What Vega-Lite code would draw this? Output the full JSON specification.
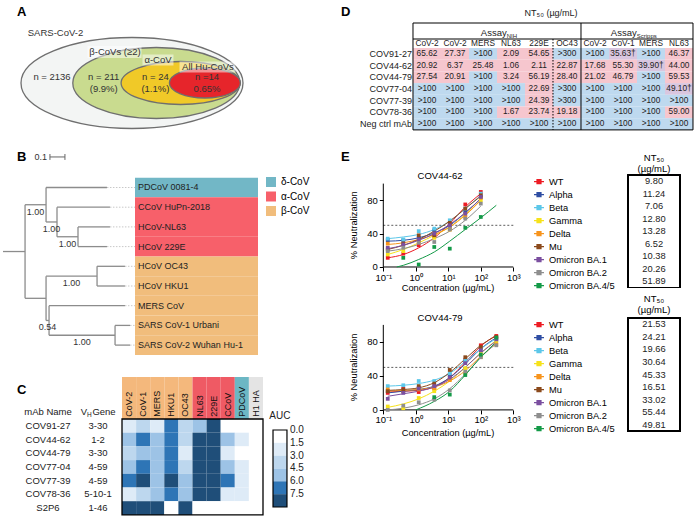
{
"$schema": "https://vega.github.io/schema/vega-lite/v6.json",
"padding": 0,
"background": "white",
"config": {
  "font": "Liberation Sans",
  "view": {"stroke": null},
  "title": {"fontSize": 13, "fontWeight": "bold", "anchor": "start", "color": "black", "font": "Liberation Sans"},
  "axis": {"labelFont": "Liberation Sans", "titleFont": "Liberation Sans", "labelColor": "black", "titleColor": "black", "domainColor": "black", "tickColor": "black", "grid": false, "labelFontSize": 9.5, "titleFontSize": 9.5, "titleFontWeight": "normal"},
  "legend": {"labelFont": "Liberation Sans", "titleFont": "Liberation Sans", "labelColor": "black", "titleColor": "black", "labelFontSize": 10, "titleFontSize": 10, "titleFontWeight": "normal"},
  "text": {"font": "Liberation Sans", "color": "#1a1a1a"}
},
"datasets": {
  "venn": [
    {"set": "SARS-CoV-2", "level": 0, "n": "n = 2136", "pct": null},
    {"set": "β-CoVs (≥2)", "level": 1, "n": "n = 211", "pct": "(9.9%)"},
    {"set": "α-CoV", "level": 2, "n": "n = 24", "pct": "(1.1%)"},
    {"set": "All Hu-CoVs", "level": 3, "n": "n =14", "pct": "0.65%"}
  ],
  "leaves": [
    {"name": "PDCoV 0081-4", "i": 0, "genus": "δ-CoV", "tip": 0.693},
    {"name": "CCoV HuPn-2018", "i": 1, "genus": "α-CoV", "tip": 0.713},
    {"name": "HCoV-NL63", "i": 2, "genus": "α-CoV", "tip": 0.713},
    {"name": "HCoV 229E", "i": 3, "genus": "α-CoV", "tip": 0.693},
    {"name": "HCoV OC43", "i": 4, "genus": "β-CoV", "tip": 0.813},
    {"name": "HCoV HKU1", "i": 5, "genus": "β-CoV", "tip": 0.813},
    {"name": "MERS CoV", "i": 6, "genus": "β-CoV", "tip": 0.813},
    {"name": "SARS CoV-1 Urbani", "i": 7, "genus": "β-CoV", "tip": 0.847},
    {"name": "SARS CoV-2 Wuhan Hu-1", "i": 8, "genus": "β-CoV", "tip": 0.847}
  ],
  "edges": [
    {"x0": 0, "x1": 0.147, "y0": 3.25, "y1": 3.25},
    {"x0": 0.147, "x1": 0.147, "y0": 0.875, "y1": 5.625},
    {"x0": 0.147, "x1": 0.287, "y0": 0.875, "y1": 0.875, "support": "1.00"},
    {"x0": 0.287, "x1": 0.287, "y0": 0, "y1": 1.75},
    {"x0": 0.287, "x1": 0.693, "y0": 0, "y1": 0},
    {"x0": 0.287, "x1": 0.36, "y0": 1.75, "y1": 1.75, "support": "1.00"},
    {"x0": 0.36, "x1": 0.36, "y0": 1, "y1": 2.5},
    {"x0": 0.36, "x1": 0.713, "y0": 1, "y1": 1},
    {"x0": 0.36, "x1": 0.5, "y0": 2.5, "y1": 2.5, "support": "1.00"},
    {"x0": 0.5, "x1": 0.5, "y0": 2, "y1": 3},
    {"x0": 0.5, "x1": 0.713, "y0": 2, "y1": 2},
    {"x0": 0.5, "x1": 0.693, "y0": 3, "y1": 3},
    {"x0": 0.147, "x1": 0.287, "y0": 5.625, "y1": 5.625},
    {"x0": 0.287, "x1": 0.287, "y0": 4.5, "y1": 6.75},
    {"x0": 0.287, "x1": 0.627, "y0": 4.5, "y1": 4.5, "support": "1.00"},
    {"x0": 0.627, "x1": 0.627, "y0": 4, "y1": 5},
    {"x0": 0.627, "x1": 0.813, "y0": 4, "y1": 4},
    {"x0": 0.627, "x1": 0.813, "y0": 5, "y1": 5},
    {"x0": 0.287, "x1": 0.307, "y0": 6.75, "y1": 6.75, "support": "0.54"},
    {"x0": 0.307, "x1": 0.307, "y0": 6, "y1": 7.5},
    {"x0": 0.307, "x1": 0.813, "y0": 6, "y1": 6},
    {"x0": 0.307, "x1": 0.747, "y0": 7.5, "y1": 7.5, "support": "1.00"},
    {"x0": 0.747, "x1": 0.747, "y0": 7, "y1": 8},
    {"x0": 0.747, "x1": 0.847, "y0": 7, "y1": 7},
    {"x0": 0.747, "x1": 0.847, "y0": 8, "y1": 8}
  ],
  "heat_cols": [
    {"antigen": "CoV-2", "ci": 0, "grp": "beta"}, {"antigen": "CoV-1", "ci": 1, "grp": "beta"},
    {"antigen": "MERS", "ci": 2, "grp": "beta"}, {"antigen": "HKU1", "ci": 3, "grp": "beta"},
    {"antigen": "OC43", "ci": 4, "grp": "beta"}, {"antigen": "NL63", "ci": 5, "grp": "alpha"},
    {"antigen": "229E", "ci": 6, "grp": "alpha"}, {"antigen": "CCoV", "ci": 7, "grp": "alpha"},
    {"antigen": "PDCoV", "ci": 8, "grp": "delta"}, {"antigen": "H1 HA", "ci": 9, "grp": "ctrl"}
  ],
  "heat_rows": [
    {"mAb": "COV91-27", "vh": "3-30", "ri": 0}, {"mAb": "COV44-62", "vh": "1-2", "ri": 1},
    {"mAb": "COV44-79", "vh": "3-30", "ri": 2}, {"mAb": "COV77-04", "vh": "4-59", "ri": 3},
    {"mAb": "COV77-39", "vh": "4-59", "ri": 4}, {"mAb": "COV78-36", "vh": "5-10-1", "ri": 5},
    {"mAb": "S2P6", "vh": "1-46", "ri": 6}
  ],
  "auc_bins": [
    {"lo": 0, "hi": 1.5}, {"lo": 1.5, "hi": 3}, {"lo": 3, "hi": 4.5}, {"lo": 4.5, "hi": 6}, {"lo": 6, "hi": 7.5}, {"lo": 7.5, "hi": 9}
  ],
  "heat": [
    {"ri":0,"ci":0,"auc":2.2},{"ri":0,"ci":1,"auc":3.7},{"ri":0,"ci":2,"auc":2.2},{"ri":0,"ci":3,"auc":6.7},{"ri":0,"ci":4,"auc":3.7},{"ri":0,"ci":5,"auc":5.2},{"ri":0,"ci":6,"auc":8.3},{"ri":0,"ci":7,"auc":0.5},{"ri":0,"ci":8,"auc":0.5},{"ri":0,"ci":9,"auc":0.5},
    {"ri":1,"ci":0,"auc":5.2},{"ri":1,"ci":1,"auc":6.7},{"ri":1,"ci":2,"auc":5.2},{"ri":1,"ci":3,"auc":6.7},{"ri":1,"ci":4,"auc":3.7},{"ri":1,"ci":5,"auc":8.3},{"ri":1,"ci":6,"auc":8.3},{"ri":1,"ci":7,"auc":5.2},{"ri":1,"ci":8,"auc":2.2},{"ri":1,"ci":9,"auc":0.5},
    {"ri":2,"ci":0,"auc":3.7},{"ri":2,"ci":1,"auc":5.2},{"ri":2,"ci":2,"auc":5.2},{"ri":2,"ci":3,"auc":6.7},{"ri":2,"ci":4,"auc":2.2},{"ri":2,"ci":5,"auc":8.3},{"ri":2,"ci":6,"auc":8.3},{"ri":2,"ci":7,"auc":2.2},{"ri":2,"ci":8,"auc":0.5},{"ri":2,"ci":9,"auc":0.5},
    {"ri":3,"ci":0,"auc":5.2},{"ri":3,"ci":1,"auc":6.7},{"ri":3,"ci":2,"auc":5.2},{"ri":3,"ci":3,"auc":6.7},{"ri":3,"ci":4,"auc":3.7},{"ri":3,"ci":5,"auc":8.3},{"ri":3,"ci":6,"auc":8.3},{"ri":3,"ci":7,"auc":5.2},{"ri":3,"ci":8,"auc":2.2},{"ri":3,"ci":9,"auc":0.5},
    {"ri":4,"ci":0,"auc":6.7},{"ri":4,"ci":1,"auc":8.3},{"ri":4,"ci":2,"auc":5.2},{"ri":4,"ci":3,"auc":8.3},{"ri":4,"ci":4,"auc":5.2},{"ri":4,"ci":5,"auc":8.3},{"ri":4,"ci":6,"auc":8.3},{"ri":4,"ci":7,"auc":6.7},{"ri":4,"ci":8,"auc":2.2},{"ri":4,"ci":9,"auc":0.5},
    {"ri":5,"ci":0,"auc":2.2},{"ri":5,"ci":1,"auc":3.7},{"ri":5,"ci":2,"auc":5.2},{"ri":5,"ci":3,"auc":6.7},{"ri":5,"ci":4,"auc":5.2},{"ri":5,"ci":5,"auc":8.3},{"ri":5,"ci":6,"auc":8.3},{"ri":5,"ci":7,"auc":2.2},{"ri":5,"ci":8,"auc":2.2},{"ri":5,"ci":9,"auc":0.5},
    {"ri":6,"ci":0,"auc":8.3},{"ri":6,"ci":1,"auc":8.3},{"ri":6,"ci":2,"auc":8.3},{"ri":6,"ci":3,"auc":0.5},{"ri":6,"ci":4,"auc":8.3},{"ri":6,"ci":5,"auc":0.5},{"ri":6,"ci":6,"auc":0.5},{"ri":6,"ci":7,"auc":0.5},{"ri":6,"ci":8,"auc":0.5},{"ri":6,"ci":9,"auc":0.5}
  ],
  "tbl_cols": [
    {"c":1,"name":"CoV-2"},{"c":2,"name":"CoV-2"},{"c":3,"name":"MERS"},{"c":4,"name":"NL63"},{"c":5,"name":"229E"},
    {"c":6,"name":"OC43"},{"c":7,"name":"CoV-2"},{"c":8,"name":"CoV-1"},{"c":9,"name":"MERS"},{"c":10,"name":"NL63"}
  ],
  "tbl_rows": [
    {"r":1,"row":"COV91-27"},{"r":2,"row":"COV44-62"},{"r":3,"row":"COV44-79"},{"r":4,"row":"COV77-04"},
    {"r":5,"row":"COV77-39"},{"r":6,"row":"COV78-36"},{"r":7,"row":"Neg ctrl mAb"}
  ],
  "tbl": [
    {"r":1,"c":1,"v":"65.62","k":"p"},{"r":1,"c":2,"v":"27.37","k":"p"},{"r":1,"c":3,"v":">100","k":"b"},{"r":1,"c":4,"v":"2.09","k":"p"},{"r":1,"c":5,"v":"54.65","k":"p"},{"r":1,"c":6,"v":">300","k":"b"},{"r":1,"c":7,"v":">100","k":"b"},{"r":1,"c":8,"v":"35.63†","k":"v"},{"r":1,"c":9,"v":">100","k":"b"},{"r":1,"c":10,"v":"46.37","k":"p"},
    {"r":2,"c":1,"v":"20.92","k":"p"},{"r":2,"c":2,"v":"6.37","k":"p"},{"r":2,"c":3,"v":"25.48","k":"p"},{"r":2,"c":4,"v":"1.06","k":"p"},{"r":2,"c":5,"v":"2.11","k":"p"},{"r":2,"c":6,"v":"22.87","k":"p"},{"r":2,"c":7,"v":"17.68","k":"p"},{"r":2,"c":8,"v":"55.30","k":"p"},{"r":2,"c":9,"v":"39.90†","k":"v"},{"r":2,"c":10,"v":"44.00","k":"p"},
    {"r":3,"c":1,"v":"27.54","k":"p"},{"r":3,"c":2,"v":"20.91","k":"p"},{"r":3,"c":3,"v":">100","k":"b"},{"r":3,"c":4,"v":"3.24","k":"p"},{"r":3,"c":5,"v":"56.19","k":"p"},{"r":3,"c":6,"v":"28.40","k":"p"},{"r":3,"c":7,"v":"21.02","k":"p"},{"r":3,"c":8,"v":"46.79","k":"p"},{"r":3,"c":9,"v":">100","k":"b"},{"r":3,"c":10,"v":"59.53","k":"p"},
    {"r":4,"c":1,"v":">100","k":"b"},{"r":4,"c":2,"v":">100","k":"b"},{"r":4,"c":3,"v":">100","k":"b"},{"r":4,"c":4,"v":">100","k":"b"},{"r":4,"c":5,"v":"22.69","k":"p"},{"r":4,"c":6,"v":">300","k":"b"},{"r":4,"c":7,"v":">100","k":"b"},{"r":4,"c":8,"v":">100","k":"b"},{"r":4,"c":9,"v":">100","k":"b"},{"r":4,"c":10,"v":"49.10†","k":"v"},
    {"r":5,"c":1,"v":">100","k":"b"},{"r":5,"c":2,"v":">100","k":"b"},{"r":5,"c":3,"v":">100","k":"b"},{"r":5,"c":4,"v":">100","k":"b"},{"r":5,"c":5,"v":"24.39","k":"p"},{"r":5,"c":6,"v":">300","k":"b"},{"r":5,"c":7,"v":">100","k":"b"},{"r":5,"c":8,"v":">100","k":"b"},{"r":5,"c":9,"v":">100","k":"b"},{"r":5,"c":10,"v":">100","k":"b"},
    {"r":6,"c":1,"v":">100","k":"b"},{"r":6,"c":2,"v":">100","k":"b"},{"r":6,"c":3,"v":">100","k":"b"},{"r":6,"c":4,"v":"1.67","k":"p"},{"r":6,"c":5,"v":"23.74","k":"p"},{"r":6,"c":6,"v":"19.18","k":"p"},{"r":6,"c":7,"v":">100","k":"b"},{"r":6,"c":8,"v":">100","k":"b"},{"r":6,"c":9,"v":">100","k":"b"},{"r":6,"c":10,"v":"59.00","k":"p"},
    {"r":7,"c":1,"v":">100","k":"b"},{"r":7,"c":2,"v":">100","k":"b"},{"r":7,"c":3,"v":">100","k":"b"},{"r":7,"c":4,"v":">100","k":"b"},{"r":7,"c":5,"v":">100","k":"b"},{"r":7,"c":6,"v":">100","k":"b"},{"r":7,"c":7,"v":">100","k":"b"},{"r":7,"c":8,"v":">100","k":"b"},{"r":7,"c":9,"v":">100","k":"b"},{"r":7,"c":10,"v":">100","k":"b"}
  ],
  "e1pts": [
    {"variant":"WT","conc":0.137,"pct":11},{"variant":"WT","conc":0.412,"pct":16},{"variant":"WT","conc":1.23,"pct":26},{"variant":"WT","conc":3.7,"pct":37},{"variant":"WT","conc":11.1,"pct":52},{"variant":"WT","conc":33.3,"pct":75},{"variant":"WT","conc":100,"pct":90},
    {"variant":"Alpha","conc":0.137,"pct":32},{"variant":"Alpha","conc":0.412,"pct":32},{"variant":"Alpha","conc":1.23,"pct":35},{"variant":"Alpha","conc":3.7,"pct":44},{"variant":"Alpha","conc":11.1,"pct":47},{"variant":"Alpha","conc":33.3,"pct":66},{"variant":"Alpha","conc":100,"pct":84},
    {"variant":"Beta","conc":0.137,"pct":34},{"variant":"Beta","conc":0.412,"pct":33},{"variant":"Beta","conc":1.23,"pct":43},{"variant":"Beta","conc":3.7,"pct":46},{"variant":"Beta","conc":11.1,"pct":56},{"variant":"Beta","conc":33.3,"pct":70},{"variant":"Beta","conc":100,"pct":88},
    {"variant":"Gamma","conc":0.137,"pct":15},{"variant":"Gamma","conc":0.412,"pct":19},{"variant":"Gamma","conc":1.23,"pct":30},{"variant":"Gamma","conc":3.7,"pct":35},{"variant":"Gamma","conc":11.1,"pct":45},{"variant":"Gamma","conc":33.3,"pct":62},{"variant":"Gamma","conc":100,"pct":80},
    {"variant":"Delta","conc":0.137,"pct":28},{"variant":"Delta","conc":0.412,"pct":28},{"variant":"Delta","conc":1.23,"pct":31},{"variant":"Delta","conc":3.7,"pct":40},{"variant":"Delta","conc":11.1,"pct":45},{"variant":"Delta","conc":33.3,"pct":60},{"variant":"Delta","conc":100,"pct":83},
    {"variant":"Mu","conc":0.137,"pct":21},{"variant":"Mu","conc":0.412,"pct":28},{"variant":"Mu","conc":1.23,"pct":38},{"variant":"Mu","conc":3.7,"pct":38},{"variant":"Mu","conc":11.1,"pct":53},{"variant":"Mu","conc":33.3,"pct":70},{"variant":"Mu","conc":100,"pct":86},
    {"variant":"Omicron BA.1","conc":0.137,"pct":23},{"variant":"Omicron BA.1","conc":0.412,"pct":27},{"variant":"Omicron BA.1","conc":1.23,"pct":33},{"variant":"Omicron BA.1","conc":3.7,"pct":40},{"variant":"Omicron BA.1","conc":11.1,"pct":50},{"variant":"Omicron BA.1","conc":33.3,"pct":64},{"variant":"Omicron BA.1","conc":100,"pct":84},
    {"variant":"Omicron BA.2","conc":0.137,"pct":19},{"variant":"Omicron BA.2","conc":0.412,"pct":23},{"variant":"Omicron BA.2","conc":1.23,"pct":29},{"variant":"Omicron BA.2","conc":3.7,"pct":30},{"variant":"Omicron BA.2","conc":11.1,"pct":45},{"variant":"Omicron BA.2","conc":33.3,"pct":58},{"variant":"Omicron BA.2","conc":100,"pct":76},
    {"variant":"Omicron BA.4/5","conc":0.412,"pct":11},{"variant":"Omicron BA.4/5","conc":1.23,"pct":3},{"variant":"Omicron BA.4/5","conc":3.7,"pct":24},{"variant":"Omicron BA.4/5","conc":11.1,"pct":22},{"variant":"Omicron BA.4/5","conc":33.3,"pct":47},{"variant":"Omicron BA.4/5","conc":100,"pct":60}
  ],
  "e1fit": [
    {"variant":"WT","conc":0.137,"pct":11},{"variant":"WT","conc":0.412,"pct":15},{"variant":"WT","conc":1.23,"pct":23},{"variant":"WT","conc":3.7,"pct":35},{"variant":"WT","conc":11.1,"pct":52},{"variant":"WT","conc":33.3,"pct":72},{"variant":"WT","conc":100,"pct":88},
    {"variant":"Alpha","conc":0.137,"pct":31},{"variant":"Alpha","conc":0.412,"pct":32},{"variant":"Alpha","conc":1.23,"pct":35},{"variant":"Alpha","conc":3.7,"pct":41},{"variant":"Alpha","conc":11.1,"pct":50},{"variant":"Alpha","conc":33.3,"pct":65},{"variant":"Alpha","conc":100,"pct":82},
    {"variant":"Beta","conc":0.137,"pct":34},{"variant":"Beta","conc":0.412,"pct":36},{"variant":"Beta","conc":1.23,"pct":39},{"variant":"Beta","conc":3.7,"pct":45},{"variant":"Beta","conc":11.1,"pct":55},{"variant":"Beta","conc":33.3,"pct":70},{"variant":"Beta","conc":100,"pct":86},
    {"variant":"Gamma","conc":0.137,"pct":15},{"variant":"Gamma","conc":0.412,"pct":21},{"variant":"Gamma","conc":1.23,"pct":29},{"variant":"Gamma","conc":3.7,"pct":38},{"variant":"Gamma","conc":11.1,"pct":48},{"variant":"Gamma","conc":33.3,"pct":63},{"variant":"Gamma","conc":100,"pct":80},
    {"variant":"Delta","conc":0.137,"pct":27},{"variant":"Delta","conc":0.412,"pct":29},{"variant":"Delta","conc":1.23,"pct":33},{"variant":"Delta","conc":3.7,"pct":39},{"variant":"Delta","conc":11.1,"pct":48},{"variant":"Delta","conc":33.3,"pct":62},{"variant":"Delta","conc":100,"pct":80},
    {"variant":"Mu","conc":0.137,"pct":21},{"variant":"Mu","conc":0.412,"pct":26},{"variant":"Mu","conc":1.23,"pct":33},{"variant":"Mu","conc":3.7,"pct":43},{"variant":"Mu","conc":11.1,"pct":55},{"variant":"Mu","conc":33.3,"pct":70},{"variant":"Mu","conc":100,"pct":85},
    {"variant":"Omicron BA.1","conc":0.137,"pct":22},{"variant":"Omicron BA.1","conc":0.412,"pct":26},{"variant":"Omicron BA.1","conc":1.23,"pct":32},{"variant":"Omicron BA.1","conc":3.7,"pct":40},{"variant":"Omicron BA.1","conc":11.1,"pct":51},{"variant":"Omicron BA.1","conc":33.3,"pct":65},{"variant":"Omicron BA.1","conc":100,"pct":82},
    {"variant":"Omicron BA.2","conc":0.137,"pct":19},{"variant":"Omicron BA.2","conc":0.412,"pct":22},{"variant":"Omicron BA.2","conc":1.23,"pct":27},{"variant":"Omicron BA.2","conc":3.7,"pct":34},{"variant":"Omicron BA.2","conc":11.1,"pct":43},{"variant":"Omicron BA.2","conc":33.3,"pct":56},{"variant":"Omicron BA.2","conc":100,"pct":73},
    {"variant":"Omicron BA.4/5","conc":0.26,"pct":0},{"variant":"Omicron BA.4/5","conc":0.412,"pct":2},{"variant":"Omicron BA.4/5","conc":1.23,"pct":9},{"variant":"Omicron BA.4/5","conc":3.7,"pct":18},{"variant":"Omicron BA.4/5","conc":11.1,"pct":31},{"variant":"Omicron BA.4/5","conc":33.3,"pct":45},{"variant":"Omicron BA.4/5","conc":100,"pct":59},{"variant":"Omicron BA.4/5","conc":300,"pct":74}
  ],
  "e1nt": [
    {"variant":"WT","nt":"9.80"},{"variant":"Alpha","nt":"11.24"},{"variant":"Beta","nt":"7.06"},{"variant":"Gamma","nt":"12.80"},{"variant":"Delta","nt":"13.28"},{"variant":"Mu","nt":"6.52"},{"variant":"Omicron BA.1","nt":"10.38"},{"variant":"Omicron BA.2","nt":"20.26"},{"variant":"Omicron BA.4/5","nt":"51.89"}
  ],
  "e2pts": [
    {"variant":"WT","conc":0.137,"pct":20},{"variant":"WT","conc":0.412,"pct":25},{"variant":"WT","conc":1.23,"pct":21},{"variant":"WT","conc":3.7,"pct":25},{"variant":"WT","conc":11.1,"pct":39},{"variant":"WT","conc":33.3,"pct":59},{"variant":"WT","conc":100,"pct":76},{"variant":"WT","conc":300,"pct":87},
    {"variant":"Alpha","conc":0.137,"pct":22},{"variant":"Alpha","conc":0.412,"pct":22},{"variant":"Alpha","conc":1.23,"pct":26},{"variant":"Alpha","conc":3.7,"pct":27},{"variant":"Alpha","conc":11.1,"pct":41},{"variant":"Alpha","conc":33.3,"pct":57},{"variant":"Alpha","conc":100,"pct":72},{"variant":"Alpha","conc":300,"pct":84},
    {"variant":"Beta","conc":0.137,"pct":28},{"variant":"Beta","conc":0.412,"pct":29},{"variant":"Beta","conc":1.23,"pct":34},{"variant":"Beta","conc":3.7,"pct":34},{"variant":"Beta","conc":11.1,"pct":43},{"variant":"Beta","conc":33.3,"pct":58},{"variant":"Beta","conc":100,"pct":72},{"variant":"Beta","conc":300,"pct":82},
    {"variant":"Gamma","conc":0.137,"pct":4},{"variant":"Gamma","conc":0.412,"pct":2},{"variant":"Gamma","conc":1.23,"pct":14},{"variant":"Gamma","conc":3.7,"pct":22},{"variant":"Gamma","conc":11.1,"pct":36},{"variant":"Gamma","conc":33.3,"pct":49},{"variant":"Gamma","conc":100,"pct":66},{"variant":"Gamma","conc":300,"pct":80},
    {"variant":"Delta","conc":0.137,"pct":24},{"variant":"Delta","conc":0.412,"pct":22},{"variant":"Delta","conc":1.23,"pct":24},{"variant":"Delta","conc":3.7,"pct":26},{"variant":"Delta","conc":11.1,"pct":35},{"variant":"Delta","conc":33.3,"pct":43},{"variant":"Delta","conc":100,"pct":62},{"variant":"Delta","conc":300,"pct":77},
    {"variant":"Mu","conc":0.137,"pct":22},{"variant":"Mu","conc":0.412,"pct":24},{"variant":"Mu","conc":1.23,"pct":28},{"variant":"Mu","conc":3.7,"pct":31},{"variant":"Mu","conc":11.1,"pct":47},{"variant":"Mu","conc":33.3,"pct":62},{"variant":"Mu","conc":100,"pct":74},{"variant":"Mu","conc":300,"pct":86},
    {"variant":"Omicron BA.1","conc":0.137,"pct":13},{"variant":"Omicron BA.1","conc":0.412,"pct":20},{"variant":"Omicron BA.1","conc":1.23,"pct":25},{"variant":"Omicron BA.1","conc":3.7,"pct":28},{"variant":"Omicron BA.1","conc":11.1,"pct":38},{"variant":"Omicron BA.1","conc":33.3,"pct":55},{"variant":"Omicron BA.1","conc":100,"pct":70},{"variant":"Omicron BA.1","conc":300,"pct":83},
    {"variant":"Omicron BA.2","conc":0.137,"pct":0},{"variant":"Omicron BA.2","conc":0.412,"pct":5},{"variant":"Omicron BA.2","conc":1.23,"pct":9},{"variant":"Omicron BA.2","conc":3.7,"pct":12},{"variant":"Omicron BA.2","conc":11.1,"pct":23},{"variant":"Omicron BA.2","conc":33.3,"pct":45},{"variant":"Omicron BA.2","conc":100,"pct":62},{"variant":"Omicron BA.2","conc":300,"pct":76},
    {"variant":"Omicron BA.4/5","conc":3.7,"pct":15},{"variant":"Omicron BA.4/5","conc":11.1,"pct":18},{"variant":"Omicron BA.4/5","conc":33.3,"pct":41},{"variant":"Omicron BA.4/5","conc":100,"pct":65},{"variant":"Omicron BA.4/5","conc":300,"pct":85}
  ],
  "e2fit": [
    {"variant":"WT","conc":0.137,"pct":21},{"variant":"WT","conc":0.412,"pct":22},{"variant":"WT","conc":1.23,"pct":23},{"variant":"WT","conc":3.7,"pct":27},{"variant":"WT","conc":11.1,"pct":38},{"variant":"WT","conc":33.3,"pct":56},{"variant":"WT","conc":100,"pct":75},{"variant":"WT","conc":300,"pct":88},
    {"variant":"Alpha","conc":0.137,"pct":20},{"variant":"Alpha","conc":0.412,"pct":22},{"variant":"Alpha","conc":1.23,"pct":24},{"variant":"Alpha","conc":3.7,"pct":28},{"variant":"Alpha","conc":11.1,"pct":38},{"variant":"Alpha","conc":33.3,"pct":54},{"variant":"Alpha","conc":100,"pct":72},{"variant":"Alpha","conc":300,"pct":85},
    {"variant":"Beta","conc":0.137,"pct":28},{"variant":"Beta","conc":0.412,"pct":29},{"variant":"Beta","conc":1.23,"pct":31},{"variant":"Beta","conc":3.7,"pct":35},{"variant":"Beta","conc":11.1,"pct":43},{"variant":"Beta","conc":33.3,"pct":57},{"variant":"Beta","conc":100,"pct":72},{"variant":"Beta","conc":300,"pct":84},
    {"variant":"Gamma","conc":0.137,"pct":3},{"variant":"Gamma","conc":0.412,"pct":7},{"variant":"Gamma","conc":1.23,"pct":13},{"variant":"Gamma","conc":3.7,"pct":22},{"variant":"Gamma","conc":11.1,"pct":34},{"variant":"Gamma","conc":33.3,"pct":50},{"variant":"Gamma","conc":100,"pct":67},{"variant":"Gamma","conc":300,"pct":82},
    {"variant":"Delta","conc":0.137,"pct":22},{"variant":"Delta","conc":0.412,"pct":23},{"variant":"Delta","conc":1.23,"pct":24},{"variant":"Delta","conc":3.7,"pct":27},{"variant":"Delta","conc":11.1,"pct":34},{"variant":"Delta","conc":33.3,"pct":46},{"variant":"Delta","conc":100,"pct":63},{"variant":"Delta","conc":300,"pct":78},
    {"variant":"Mu","conc":0.137,"pct":23},{"variant":"Mu","conc":0.412,"pct":24},{"variant":"Mu","conc":1.23,"pct":26},{"variant":"Mu","conc":3.7,"pct":32},{"variant":"Mu","conc":11.1,"pct":44},{"variant":"Mu","conc":33.3,"pct":60},{"variant":"Mu","conc":100,"pct":76},{"variant":"Mu","conc":300,"pct":87},
    {"variant":"Omicron BA.1","conc":0.137,"pct":16},{"variant":"Omicron BA.1","conc":0.412,"pct":19},{"variant":"Omicron BA.1","conc":1.23,"pct":22},{"variant":"Omicron BA.1","conc":3.7,"pct":27},{"variant":"Omicron BA.1","conc":11.1,"pct":36},{"variant":"Omicron BA.1","conc":33.3,"pct":50},{"variant":"Omicron BA.1","conc":100,"pct":67},{"variant":"Omicron BA.1","conc":300,"pct":81},
    {"variant":"Omicron BA.2","conc":0.137,"pct":0},{"variant":"Omicron BA.2","conc":0.412,"pct":2},{"variant":"Omicron BA.2","conc":1.23,"pct":6},{"variant":"Omicron BA.2","conc":3.7,"pct":13},{"variant":"Omicron BA.2","conc":11.1,"pct":25},{"variant":"Omicron BA.2","conc":33.3,"pct":42},{"variant":"Omicron BA.2","conc":100,"pct":62},{"variant":"Omicron BA.2","conc":300,"pct":78},
    {"variant":"Omicron BA.4/5","conc":1.0,"pct":0},{"variant":"Omicron BA.4/5","conc":3.7,"pct":10},{"variant":"Omicron BA.4/5","conc":11.1,"pct":22},{"variant":"Omicron BA.4/5","conc":33.3,"pct":41},{"variant":"Omicron BA.4/5","conc":100,"pct":62},{"variant":"Omicron BA.4/5","conc":300,"pct":80}
  ],
  "e2nt": [
    {"variant":"WT","nt":"21.53"},{"variant":"Alpha","nt":"24.21"},{"variant":"Beta","nt":"19.66"},{"variant":"Gamma","nt":"30.64"},{"variant":"Delta","nt":"45.33"},{"variant":"Mu","nt":"16.51"},{"variant":"Omicron BA.1","nt":"33.02"},{"variant":"Omicron BA.2","nt":"55.44"},{"variant":"Omicron BA.4/5","nt":"49.81"}
  ]
},
"hconcat": [
  {
    "vconcat": [
      {
        "width": 340, "height": 140,
        "title": {"text": "A", "offset": -19, "dx": 17},
        "data": {"name": "venn"},
        "resolve": {"scale": {"x": "independent"}},
        "layer": [
          {"mark": {"type": "point", "filled": true, "size": 10000, "opacity": 1, "stroke": "#6f6f6f", "strokeWidth": 1.3},
           "encoding": {
             "x": {"field": "level", "type": "quantitative", "scale": {"domain": [-5.432, 8.56], "nice": false, "zero": false}, "axis": null},
             "y": {"datum": 0, "type": "quantitative", "scale": {"domain": [-0.814, 1.186], "nice": false, "zero": false}, "axis": null},
             "shape": {"field": "level", "type": "ordinal", "scale": {"domain": [0, 1, 2, 3], "range": ["M-2.22,0A2.22,0.91,0,1,0,2.22,0A2.22,0.91,0,1,0,-2.22,0Z", "M-1.67,0A1.67,0.71,0,1,0,1.67,0A1.67,0.71,0,1,0,-1.67,0Z", "M-1.19,0A1.19,0.43,0,1,0,1.19,0A1.19,0.43,0,1,0,-1.19,0Z", "M-0.71,0A0.71,0.3,0,1,0,0.71,0A0.71,0.3,0,1,0,-0.71,0Z"]}, "legend": null},
             "color": {"field": "level", "type": "ordinal", "scale": {"domain": [0, 1, 2, 3], "range": ["#f3f5f4", "#c9db8f", "#f0c928", "#e6252b"]}, "legend": null}}},
          {"data": {"values": [{}]},
           "mark": {"type": "rect", "width": 54, "height": 12, "color": "white", "opacity": 0.5},
           "encoding": {"x": {"datum": 1.209, "type": "quantitative", "scale": {"domain": [-1.006, 5.571], "nice": false, "zero": false}, "axis": null}, "y": {"datum": 0.4431, "type": "quantitative"}}},
          {"data": {"values": [{}]},
           "mark": {"type": "rect", "width": 31, "height": 11, "color": "white", "opacity": 0.5},
           "encoding": {"x": {"datum": 2.05, "type": "quantitative", "scale": {"domain": [-1.006, 5.571], "nice": false, "zero": false}, "axis": null}, "y": {"datum": 0.3289, "type": "quantitative"}}},
          {"data": {"values": [{}]},
           "mark": {"type": "rect", "width": 56, "height": 11, "color": "white", "opacity": 0.5},
           "encoding": {"x": {"datum": 3.008, "type": "quantitative", "scale": {"domain": [-1.006, 5.571], "nice": false, "zero": false}, "axis": null}, "y": {"datum": 0.2289, "type": "quantitative"}}},
          {"mark": {"type": "text", "fontSize": 9.5, "color": "#333"},
           "encoding": {
             "x": {"field": "level", "type": "quantitative", "scale": {"domain": [-1.006, 5.571], "nice": false, "zero": false}, "axis": null},
             "y": {"datum": 0.086, "type": "quantitative"},
             "text": {"field": "n"}}},
          {"transform": [{"filter": "datum.pct != null"}],
           "mark": {"type": "text", "fontSize": 9.5, "color": "#333"},
           "encoding": {
             "x": {"field": "level", "type": "quantitative", "scale": {"domain": [-1.006, 5.571], "nice": false, "zero": false}, "axis": null},
             "y": {"datum": -0.085, "type": "quantitative"},
             "text": {"field": "pct"}}},
          {"transform": [{"filter": "datum.level == 0"}],
           "mark": {"type": "text", "fontSize": 9.5, "color": "#333", "dx": 3.5},
           "encoding": {
             "x": {"field": "level", "type": "quantitative", "scale": {"domain": [-1.006, 5.571], "nice": false, "zero": false}, "axis": null},
             "y": {"datum": 0.7146, "type": "quantitative"},
             "text": {"field": "set"}}},
          {"transform": [{"filter": "datum.level == 1"}],
           "mark": {"type": "text", "fontSize": 9.5, "color": "#333", "dx": 11.3},
           "encoding": {
             "x": {"field": "level", "type": "quantitative", "scale": {"domain": [-1.006, 5.571], "nice": false, "zero": false}, "axis": null},
             "y": {"datum": 0.4431, "type": "quantitative"},
             "text": {"field": "set"}}},
          {"transform": [{"filter": "datum.level == 2"}],
           "mark": {"type": "text", "fontSize": 9.5, "color": "#333", "dx": 2.6},
           "encoding": {
             "x": {"field": "level", "type": "quantitative", "scale": {"domain": [-1.006, 5.571], "nice": false, "zero": false}, "axis": null},
             "y": {"datum": 0.3289, "type": "quantitative"},
             "text": {"field": "set"}}},
          {"transform": [{"filter": "datum.level == 3"}],
           "mark": {"type": "text", "fontSize": 9.5, "color": "#333", "dx": 0.9},
           "encoding": {
             "x": {"field": "level", "type": "quantitative", "scale": {"domain": [-1.006, 5.571], "nice": false, "zero": false}, "axis": null},
             "y": {"datum": 0.2289, "type": "quantitative"},
             "text": {"field": "set"}}}
        ]
      },
      {
        "width": 258, "height": 225,
        "title": {"text": "B", "offset": -24, "dx": 17},
        "layer": [
          {"data": {"name": "leaves"},
           "mark": {"type": "rect", "height": 19.7},
           "encoding": {
             "x": {"datum": 0.88, "type": "quantitative", "scale": {"domain": [-0.02, 1.7], "nice": false, "zero": false}, "axis": null},
             "x2": {"datum": 1.7},
             "y": {"field": "i", "type": "quantitative", "scale": {"domain": [-2.411, 9.01], "reverse": true, "nice": false, "zero": false}, "axis": null},
             "color": {"field": "genus", "type": "nominal", "scale": {"domain": ["δ-CoV", "α-CoV", "β-CoV"], "range": ["#72b7c6", "#f7606a", "#f1bd7c"]},
                       "legend": {"orient": "none", "legendX": 266, "legendY": 37, "title": null, "symbolType": "square", "symbolSize": 100, "rowPadding": 4.5, "labelFontSize": 10, "symbolStrokeWidth": 0, "labelOffset": 5}}}},
          {"data": {"name": "leaves"},
           "mark": {"type": "rule", "color": "#c8c8c8", "strokeDash": [1.5, 1.5], "strokeWidth": 1},
           "encoding": {
             "x": {"field": "tip", "type": "quantitative"},
             "x2": {"datum": 0.88},
             "y": {"field": "i", "type": "quantitative"}}},
          {"data": {"name": "edges"},
           "mark": {"type": "rule", "color": "#8c8c8c", "strokeWidth": 1.3},
           "encoding": {
             "x": {"field": "x0", "type": "quantitative"},
             "x2": {"field": "x1"},
             "y": {"field": "y0", "type": "quantitative"},
             "y2": {"field": "y1"}}},
          {"data": {"name": "edges"},
           "transform": [{"filter": "datum.support"}, {"fold": ["x0", "x1"], "as": ["end", "xv"]}],
           "mark": {"type": "text", "fontSize": 9, "dy": 7, "color": "#333"},
           "encoding": {
             "x": {"aggregate": "mean", "field": "xv", "type": "quantitative"},
             "y": {"field": "y0", "type": "quantitative"},
             "text": {"field": "support"}}},
          {"data": {"name": "leaves"},
           "mark": {"type": "text", "align": "left", "dx": 3, "fontSize": 9, "color": "#222"},
           "encoding": {
             "x": {"datum": 0.88, "type": "quantitative"},
             "y": {"field": "i", "type": "quantitative"},
             "text": {"field": "name"}}},
          {"data": {"values": [{}]},
           "mark": {"type": "rule", "color": "#666"},
           "encoding": {"x": {"datum": 0.313, "type": "quantitative"}, "x2": {"datum": 0.413}, "y": {"datum": -1.55, "type": "quantitative"}}},
          {"data": {"values": [{}]},
           "mark": {"type": "rule", "color": "#666"},
           "encoding": {"x": {"datum": 0.313, "type": "quantitative"}, "y": {"datum": -1.7, "type": "quantitative"}, "y2": {"datum": -1.4}}},
          {"data": {"values": [{}]},
           "mark": {"type": "rule", "color": "#666"},
           "encoding": {"x": {"datum": 0.413, "type": "quantitative"}, "y": {"datum": -1.7, "type": "quantitative"}, "y2": {"datum": -1.4}}},
          {"data": {"values": [{}]},
           "mark": {"type": "text", "align": "right", "fontSize": 9, "dx": -3, "color": "#333"},
           "encoding": {"x": {"datum": 0.313, "type": "quantitative"}, "y": {"datum": -1.55, "type": "quantitative"}, "text": {"value": "0.1"}}}
        ]
      },
      {
        "width": 263, "height": 160,
        "title": {"text": "C", "offset": -32, "dx": 17},
        "resolve": {"scale": {"y": "independent"}},
        "layer": [
          {"layer": [
            {"data": {"name": "heat_cols"},
             "mark": {"type": "rect", "width": 14.1},
             "encoding": {
               "x": {"field": "ci", "type": "quantitative", "scale": {"domain": [-9.153, 9.5], "nice": false, "zero": false}, "axis": null},
               "y": {"datum": -3.566, "type": "quantitative", "scale": {"domain": [-4.44, 7.237], "reverse": true, "nice": false, "zero": false}, "axis": null},
               "y2": {"datum": -0.5},
               "fill": {"field": "grp", "type": "nominal", "scale": {"domain": ["beta", "alpha", "delta", "ctrl"], "range": ["#f4b87c", "#ef5a64", "#6cb7c4", "#e4e4e4"]}, "legend": null}}},
            {"data": {"name": "heat_cols"},
             "mark": {"type": "text", "angle": 270, "align": "left", "baseline": "middle", "fontSize": 9, "color": "#111"},
             "encoding": {
               "x": {"field": "ci", "type": "quantitative"},
               "y": {"datum": -0.66, "type": "quantitative"},
               "text": {"field": "antigen"}}},
            {"data": {"name": "heat"},
             "mark": {"type": "rect", "width": 14.1, "height": 13.7},
             "encoding": {
               "x": {"field": "ci", "type": "quantitative"},
               "y": {"field": "ri", "type": "quantitative"},
               "color": {"field": "auc", "type": "quantitative",
                         "scale": {"type": "quantize", "domain": [0, 9], "nice": false, "zero": false, "range": ["#ffffff", "#deebf7", "#bdd7ee", "#9dc3e6", "#2e75b6", "#1f4e79"]},
                         "legend": null}}},
            {"data": {"values": [{}]},
             "mark": {"type": "rect", "filled": false, "stroke": "black", "strokeWidth": 1.3},
             "encoding": {
               "x": {"datum": -0.5, "type": "quantitative"}, "x2": {"datum": 9.5},
               "y": {"datum": -0.5, "type": "quantitative"}, "y2": {"datum": 6.5}}},
            {"data": {"name": "heat_rows"},
             "mark": {"type": "text", "fontSize": 9.5, "color": "#222"},
             "encoding": {
               "x": {"datum": -5.75, "type": "quantitative"},
               "y": {"field": "ri", "type": "quantitative"},
               "text": {"field": "mAb"}}},
            {"data": {"name": "heat_rows"},
             "mark": {"type": "text", "fontSize": 9.5, "color": "#222"},
             "encoding": {
               "x": {"datum": -2.2, "type": "quantitative"},
               "y": {"field": "ri", "type": "quantitative"},
               "text": {"field": "vh"}}},
            {"data": {"values": [{}]},
             "mark": {"type": "text", "fontSize": 9.5, "color": "#222"},
             "encoding": {"x": {"datum": -5.75, "type": "quantitative"}, "y": {"datum": -1.01, "type": "quantitative"}, "text": {"value": "mAb Name"}}},
            {"data": {"values": [{}]},
             "mark": {"type": "text", "fontSize": 9.5, "color": "#222", "align": "right"},
             "encoding": {"x": {"datum": -2.98, "type": "quantitative"}, "y": {"datum": -1.01, "type": "quantitative"}, "text": {"value": "V"}}},
            {"data": {"values": [{}]},
             "mark": {"type": "text", "fontSize": 6.5, "color": "#222", "align": "left", "dy": 3},
             "encoding": {"x": {"datum": -2.98, "type": "quantitative"}, "y": {"datum": -1.01, "type": "quantitative"}, "text": {"value": "H"}}},
            {"data": {"values": [{}]},
             "mark": {"type": "text", "fontSize": 9.5, "color": "#222", "align": "left"},
             "encoding": {"x": {"datum": -2.6, "type": "quantitative"}, "y": {"datum": -1.01, "type": "quantitative"}, "text": {"value": "Gene"}}}
          ]},
          {"layer": [
            {"data": {"name": "auc_bins"},
             "mark": {"type": "rect"},
             "encoding": {
               "x": {"datum": 10.21, "type": "quantitative"}, "x2": {"datum": 11.2},
               "y": {"field": "lo", "type": "quantitative", "scale": {"domain": [-7.597, 11.104], "reverse": true, "nice": false, "zero": false}, "axis": null},
               "y2": {"field": "hi"},
               "color": {"field": "lo", "type": "quantitative", "legend": null,
                         "scale": {"type": "quantize", "domain": [0, 9], "nice": false, "zero": false, "range": ["#ffffff", "#deebf7", "#bdd7ee", "#9dc3e6", "#2e75b6", "#1f4e79"]}}}},
            {"data": {"name": "auc_bins"},
             "mark": {"type": "text", "fontSize": 10, "color": "#222", "align": "left", "dx": 3},
             "encoding": {
               "x": {"datum": 11.2, "type": "quantitative"},
               "y": {"field": "lo", "type": "quantitative"},
               "text": {"field": "lo", "format": ".1f"}}},
            {"data": {"values": [{}]},
             "mark": {"type": "rect", "filled": false, "stroke": "black", "strokeWidth": 1.2},
             "encoding": {
               "x": {"datum": 10.21, "type": "quantitative"}, "x2": {"datum": 11.2},
               "y": {"datum": 0, "type": "quantitative"}, "y2": {"datum": 9}}},
            {"data": {"values": [{}]},
             "mark": {"type": "text", "fontSize": 10, "color": "#222"},
             "encoding": {"x": {"datum": 10.7, "type": "quantitative"}, "y": {"datum": -1.64, "type": "quantitative"}, "text": {"value": "AUC"}}}
          ]}
        ]
      }
    ],
    "spacing": 0,
    "bounds": "flush",
    "resolve": {"scale": {"color": "independent", "fill": "independent", "shape": "independent"}, "legend": {"color": "independent", "fill": "independent", "shape": "independent"}}
  },
  {
    "vconcat": [
      {
        "width": 360, "height": 150,
        "title": {"text": "D", "offset": -19, "dx": 1},
        "layer": [
          {"data": {"name": "tbl"},
           "mark": {"type": "rect", "width": 28, "height": 11.7},
           "encoding": {
             "x": {"field": "c", "type": "quantitative", "scale": {"domain": [-2.107, 10.75], "nice": false, "zero": false}, "axis": null},
             "y": {"field": "r", "type": "quantitative", "scale": {"domain": [-3.603, 9.218], "reverse": true, "nice": false, "zero": false}, "axis": null},
             "color": {"field": "k", "type": "nominal", "scale": {"domain": ["p", "b", "v"], "range": ["#f6c6ce", "#bed9ef", "#d9c6df"]}, "legend": null}}},
          {"data": {"name": "tbl"},
           "mark": {"type": "text", "fontSize": 8.3, "color": "#222"},
           "encoding": {
             "x": {"field": "c", "type": "quantitative"},
             "y": {"field": "r", "type": "quantitative"},
             "text": {"field": "v"}}},
          {"data": {"name": "tbl_cols"},
           "mark": {"type": "text", "fontSize": 8.3, "color": "#222"},
           "encoding": {
             "x": {"field": "c", "type": "quantitative"},
             "y": {"datum": 0.158, "type": "quantitative"},
             "text": {"field": "name"}}},
          {"data": {"name": "tbl_rows"},
           "mark": {"type": "text", "fontSize": 9, "align": "right", "dx": -1, "color": "#222"},
           "encoding": {
             "x": {"datum": 0.5, "type": "quantitative"},
             "y": {"field": "r", "type": "quantitative"},
             "text": {"field": "row"}}},
          {"data": {"values": [{}]},
           "mark": {"type": "rect", "filled": false, "stroke": "black", "strokeWidth": 1},
           "encoding": {"x": {"datum": 0.5, "type": "quantitative"}, "x2": {"datum": 10.5}, "y": {"datum": -1.637, "type": "quantitative"}, "y2": {"datum": 7.5}}},
          {"data": {"values": [{}]},
           "mark": {"type": "rule", "color": "black", "strokeWidth": 1},
           "encoding": {"x": {"datum": 0.5, "type": "quantitative"}, "x2": {"datum": 10.5}, "y": {"datum": -0.269, "type": "quantitative"}}},
          {"data": {"values": [{}]},
           "mark": {"type": "rule", "color": "black", "strokeWidth": 1},
           "encoding": {"x": {"datum": 6.5, "type": "quantitative"}, "y": {"datum": -1.637, "type": "quantitative"}, "y2": {"datum": 7.5}}},
          {"data": {"values": [{}]},
           "mark": {"type": "rule", "color": "black", "strokeWidth": 1, "strokeDash": [1.5, 1.5]},
           "encoding": {"x": {"datum": 5.5, "type": "quantitative"}, "y": {"datum": -0.269, "type": "quantitative"}, "y2": {"datum": 7.5}}},
          {"data": {"values": [{}]},
           "mark": {"type": "text", "fontSize": 9, "color": "#222"},
           "encoding": {"x": {"datum": 5.43, "type": "quantitative"}, "y": {"datum": -2.49, "type": "quantitative"}, "text": {"value": "NT₅₀ (µg/mL)"}}},
          {"data": {"values": [{}]},
           "mark": {"type": "text", "fontSize": 9.5, "color": "#222", "align": "right"},
           "encoding": {"x": {"datum": 3.846, "type": "quantitative"}, "y": {"datum": -0.782, "type": "quantitative"}, "text": {"value": "Assay"}}},
          {"data": {"values": [{}]},
           "mark": {"type": "text", "fontSize": 6, "color": "#222", "align": "left", "dy": 3},
           "encoding": {"x": {"datum": 3.846, "type": "quantitative"}, "y": {"datum": -0.782, "type": "quantitative"}, "text": {"value": "NIH"}}},
          {"data": {"values": [{}]},
           "mark": {"type": "text", "fontSize": 9.5, "color": "#222", "align": "right"},
           "encoding": {"x": {"datum": 8.49, "type": "quantitative"}, "y": {"datum": -0.782, "type": "quantitative"}, "text": {"value": "Assay"}}},
          {"data": {"values": [{}]},
           "mark": {"type": "text", "fontSize": 6, "color": "#222", "align": "left", "dy": 3},
           "encoding": {"x": {"datum": 8.49, "type": "quantitative"}, "y": {"datum": -0.782, "type": "quantitative"}, "text": {"value": "Scripps"}}}
        ]
      },
      {"width": 20, "height": 24.7, "title": {"text": "E", "offset": -14, "dx": 1}, "data": {"values": []}, "mark": "point"},
      {
        "width": 340, "height": 112.5,
        "resolve": {"scale": {"x": "independent", "y": "independent"}},
        "layer": [
          {"layer": [
            {"data": {"values": [{}]},
             "mark": {"type": "rule", "strokeDash": [2, 2], "color": "#333", "strokeWidth": 0.8},
             "encoding": {"x": {"datum": 0.1, "type": "quantitative"}, "x2": {"datum": 1000}, "y": {"datum": 50, "type": "quantitative"}}},
            {"data": {"values": [{}]},
             "mark": {"type": "rule", "color": "black", "strokeWidth": 1},
             "encoding": {"x": {"datum": 0.1, "type": "quantitative"}, "x2": {"datum": 1000}, "y": {"datum": 0, "type": "quantitative"}}},
            {"data": {"values": [{}]},
             "mark": {"type": "rule", "color": "black", "strokeWidth": 1},
             "encoding": {"x": {"datum": 0.1, "type": "quantitative"}, "y": {"datum": 0, "type": "quantitative"}, "y2": {"datum": 100}}},
            {"data": {"name": "e1fit"},
             "mark": {"type": "line", "interpolate": "monotone", "strokeWidth": 1},
             "encoding": {
               "x": {"field": "conc", "type": "quantitative", "scale": {"type": "log", "domain": [0.004653, 134600000], "nice": false},
                     "axis": {"orient": "bottom", "offset": -20.5, "title": null, "domain": false, "values": [0.1, 1, 10, 100, 1000], "labelExpr": "datum.value < 0.5 ? '10⁻¹' : datum.value < 5 ? '10⁰' : datum.value < 50 ? '10¹' : datum.value < 500 ? '10²' : '10³'", "tickSize": 4, "labelPadding": 1, "labelFlush": false, "labelOverlap": false}},
               "y": {"field": "pct", "type": "quantitative", "scale": {"domain": [-24.58, 110.31], "nice": false, "zero": false},
                     "axis": {"orient": "left", "offset": -43.3, "title": null, "domain": false, "values": [0, 20, 40, 60, 80, 100], "tickSize": 4, "labelPadding": 2, "labelOverlap": false}},
               "color": {"field": "variant", "type": "nominal",
                         "scale": {"domain": ["WT", "Alpha", "Beta", "Gamma", "Delta", "Mu", "Omicron BA.1", "Omicron BA.2", "Omicron BA.4/5"], "range": ["#ed1c24", "#2f4ea3", "#5cc7e9", "#f6e21b", "#f7941d", "#8b4a1c", "#7b4fa0", "#8e8e8e", "#149a48"]},
                         "legend": {"orient": "none", "legendX": 193, "legendY": 1.3, "title": null, "symbolType": "M-1,0L1,0M-0.4,-0.4L0.4,-0.4L0.4,0.4L-0.4,0.4Z", "symbolSize": 100, "symbolStrokeWidth": 1.2, "labelFontSize": 9.3, "labelOffset": 4, "rowPadding": 2, "clipHeight": 10.5, "labelLimit": 200}}}},
            {"data": {"name": "e1pts"},
             "mark": {"type": "point", "shape": "square", "filled": true, "size": 14, "opacity": 1},
             "encoding": {
               "x": {"field": "conc", "type": "quantitative"},
               "y": {"field": "pct", "type": "quantitative"},
               "color": {"field": "variant", "type": "nominal"}}},
            {"data": {"values": [{}]},
             "mark": {"type": "text", "fontSize": 9.3, "color": "black"},
             "encoding": {"x": {"datum": 9.8, "type": "quantitative"}, "y": {"datum": -24.7, "type": "quantitative"}, "text": {"value": "Concentration (µg/mL)"}}},
            {"data": {"values": [{}]},
             "mark": {"type": "text", "fontSize": 9.3, "color": "black", "angle": 270},
             "encoding": {"x": {"datum": 0.01259, "type": "quantitative"}, "y": {"datum": 50, "type": "quantitative"}, "text": {"value": "% Neutralization"}}},
            {"data": {"values": [{}]},
             "mark": {"type": "text", "fontSize": 9.5, "color": "black"},
             "encoding": {"x": {"datum": 5.56, "type": "quantitative"}, "y": {"datum": 108.8, "type": "quantitative"}, "text": {"value": "COV44-62"}}},
            {"data": {"values": [{}]},
             "mark": {"type": "text", "fontSize": 9.5, "color": "black"},
             "encoding": {"x": {"datum": 21330000, "type": "quantitative"}, "y": {"datum": 130.6, "type": "quantitative"}, "text": {"value": "NT₅₀"}}},
            {"data": {"values": [{}]},
             "mark": {"type": "text", "fontSize": 9.5, "color": "black"},
             "encoding": {"x": {"datum": 21330000, "type": "quantitative"}, "y": {"datum": 117.6, "type": "quantitative"}, "text": {"value": "(µg/mL)"}}}
          ]},
          {"data": {"name": "e1nt"},
           "layer": [
            {"mark": {"type": "rect", "filled": false, "stroke": "black", "strokeWidth": 1.2},
             "encoding": {"x": {"datum": 0, "type": "quantitative", "scale": {"domain": [-5.538, 1], "nice": false, "zero": false}, "axis": null}, "x2": {"datum": 1}}},
            {"mark": {"type": "text", "fontSize": 9.3, "color": "#222"},
             "encoding": {
               "x": {"datum": 0.5, "type": "quantitative"},
               "y": {"field": "variant", "type": "nominal", "sort": ["WT", "Alpha", "Beta", "Gamma", "Delta", "Mu", "Omicron BA.1", "Omicron BA.2", "Omicron BA.4/5"], "axis": null, "scale": {"paddingInner": 0, "paddingOuter": 0}},
               "text": {"field": "nt"}}}
          ]}
        ]
      },
      {"width": 1, "height": 29.2, "data": {"values": []}, "mark": "point"},
      {
        "width": 340, "height": 113.2,
        "resolve": {"scale": {"x": "independent", "y": "independent"}},
        "layer": [
          {"layer": [
            {"data": {"values": [{}]},
             "mark": {"type": "rule", "strokeDash": [2, 2], "color": "#333", "strokeWidth": 0.8},
             "encoding": {"x": {"datum": 0.1, "type": "quantitative"}, "x2": {"datum": 1000}, "y": {"datum": 50, "type": "quantitative"}}},
            {"data": {"values": [{}]},
             "mark": {"type": "rule", "color": "black", "strokeWidth": 1},
             "encoding": {"x": {"datum": 0.1, "type": "quantitative"}, "x2": {"datum": 1000}, "y": {"datum": 0, "type": "quantitative"}}},
            {"data": {"values": [{}]},
             "mark": {"type": "rule", "color": "black", "strokeWidth": 1},
             "encoding": {"x": {"datum": 0.1, "type": "quantitative"}, "y": {"datum": 0, "type": "quantitative"}, "y2": {"datum": 100}}},
            {"data": {"name": "e2fit"},
             "mark": {"type": "line", "interpolate": "monotone", "strokeWidth": 1},
             "encoding": {
               "x": {"field": "conc", "type": "quantitative", "scale": {"type": "log", "domain": [0.004653, 134600000], "nice": false},
                     "axis": {"orient": "bottom", "offset": -21.3, "title": null, "domain": false, "values": [0.1, 1, 10, 100, 1000], "labelExpr": "datum.value < 0.5 ? '10⁻¹' : datum.value < 5 ? '10⁰' : datum.value < 50 ? '10¹' : datum.value < 500 ? '10²' : '10³'", "tickSize": 4, "labelPadding": 1, "labelFlush": false, "labelOverlap": false}},
               "y": {"field": "pct", "type": "quantitative", "scale": {"domain": [-25.06, 108.12], "nice": false, "zero": false},
                     "axis": {"orient": "left", "offset": -43.3, "title": null, "domain": false, "values": [0, 20, 40, 60, 80, 100], "tickSize": 4, "labelPadding": 2, "labelOverlap": false}},
               "color": {"field": "variant", "type": "nominal",
                         "scale": {"domain": ["WT", "Alpha", "Beta", "Gamma", "Delta", "Mu", "Omicron BA.1", "Omicron BA.2", "Omicron BA.4/5"], "range": ["#ed1c24", "#2f4ea3", "#5cc7e9", "#f6e21b", "#f7941d", "#8b4a1c", "#7b4fa0", "#8e8e8e", "#149a48"]},
                         "legend": {"orient": "none", "legendX": 193, "legendY": 1.3, "title": null, "symbolType": "M-1,0L1,0M-0.4,-0.4L0.4,-0.4L0.4,0.4L-0.4,0.4Z", "symbolSize": 100, "symbolStrokeWidth": 1.2, "labelFontSize": 9.3, "labelOffset": 4, "rowPadding": 2, "clipHeight": 10.58, "labelLimit": 200}}}},
            {"data": {"name": "e2pts"},
             "mark": {"type": "point", "shape": "square", "filled": true, "size": 14, "opacity": 1},
             "encoding": {
               "x": {"field": "conc", "type": "quantitative"},
               "y": {"field": "pct", "type": "quantitative"},
               "color": {"field": "variant", "type": "nominal"}}},
            {"data": {"values": [{}]},
             "mark": {"type": "text", "fontSize": 9.3, "color": "black"},
             "encoding": {"x": {"datum": 9.8, "type": "quantitative"}, "y": {"datum": -26.7, "type": "quantitative"}, "text": {"value": "Concentration (µg/mL)"}}},
            {"data": {"values": [{}]},
             "mark": {"type": "text", "fontSize": 9.3, "color": "black", "angle": 270},
             "encoding": {"x": {"datum": 0.01259, "type": "quantitative"}, "y": {"datum": 50, "type": "quantitative"}, "text": {"value": "% Neutralization"}}},
            {"data": {"values": [{}]},
             "mark": {"type": "text", "fontSize": 9.5, "color": "black"},
             "encoding": {"x": {"datum": 5.56, "type": "quantitative"}, "y": {"datum": 107.8, "type": "quantitative"}, "text": {"value": "COV44-79"}}},
            {"data": {"values": [{}]},
             "mark": {"type": "text", "fontSize": 9.5, "color": "black"},
             "encoding": {"x": {"datum": 21330000, "type": "quantitative"}, "y": {"datum": 130.7, "type": "quantitative"}, "text": {"value": "NT₅₀"}}},
            {"data": {"values": [{}]},
             "mark": {"type": "text", "fontSize": 9.5, "color": "black"},
             "encoding": {"x": {"datum": 21330000, "type": "quantitative"}, "y": {"datum": 117.9, "type": "quantitative"}, "text": {"value": "(µg/mL)"}}}
          ]},
          {"data": {"name": "e2nt"},
           "layer": [
            {"mark": {"type": "rect", "filled": false, "stroke": "black", "strokeWidth": 1.2},
             "encoding": {"x": {"datum": 0, "type": "quantitative", "scale": {"domain": [-5.538, 1], "nice": false, "zero": false}, "axis": null}, "x2": {"datum": 1}}},
            {"mark": {"type": "text", "fontSize": 9.3, "color": "#222"},
             "encoding": {
               "x": {"datum": 0.5, "type": "quantitative"},
               "y": {"field": "variant", "type": "nominal", "sort": ["WT", "Alpha", "Beta", "Gamma", "Delta", "Mu", "Omicron BA.1", "Omicron BA.2", "Omicron BA.4/5"], "axis": null, "scale": {"paddingInner": 0, "paddingOuter": 0}},
               "text": {"field": "nt"}}}
          ]}
        ]
      }
    ],
    "spacing": 0,
    "bounds": "flush",
    "resolve": {"scale": {"color": "independent", "fill": "independent", "shape": "independent"}, "legend": {"color": "independent", "fill": "independent", "shape": "independent"}}
  }
],
"spacing": 0,
"bounds": "full",
"resolve": {"scale": {"color": "independent", "fill": "independent", "shape": "independent"}, "legend": {"color": "independent", "fill": "independent", "shape": "independent"}}
}
